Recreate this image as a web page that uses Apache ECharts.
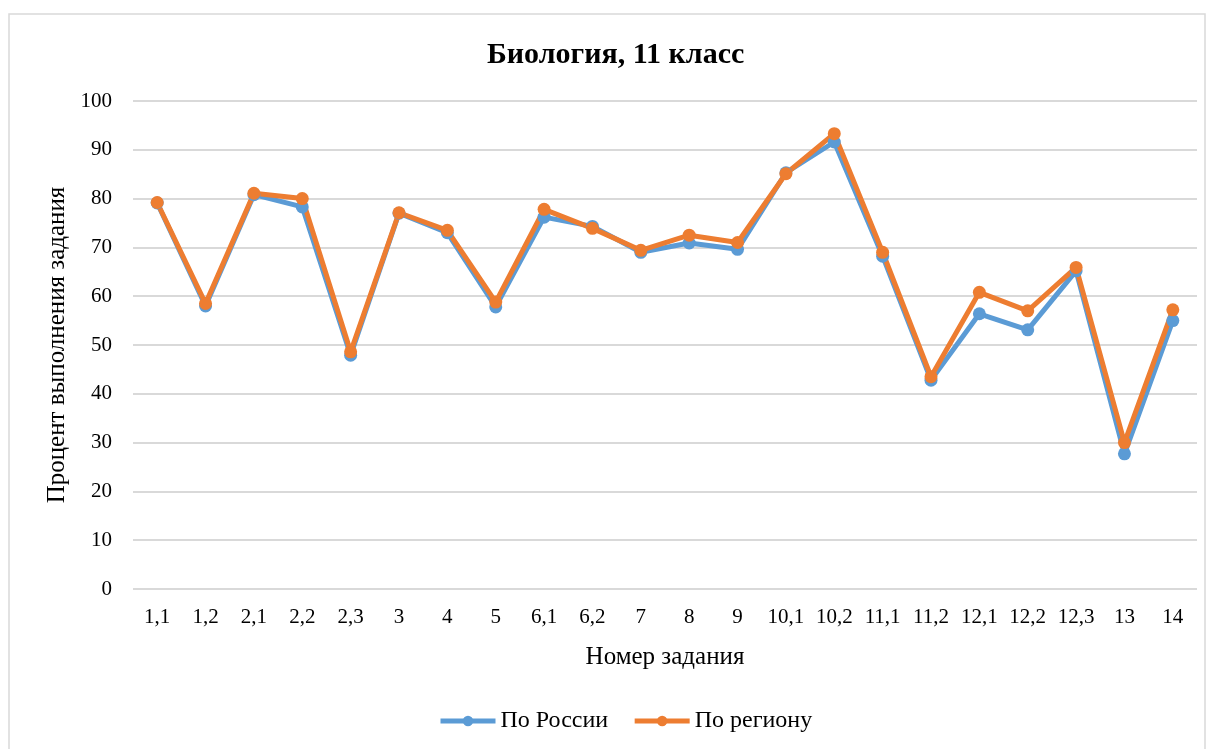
<!DOCTYPE html>
<html>
<head>
<meta charset="utf-8">
<script src="https://cdn.jsdelivr.net/npm/echarts@6/dist/echarts.min.js"></script>
<style>html,body{margin:0;padding:0;background:#fff}#c{width:1212px;height:749px}</style>
</head>
<body>
<div id="c"></div>
<script>
const categories = ['1,1','1,2','2,1','2,2','2,3','3','4','5','6,1','6,2','7','8','9','10,1','10,2','11,1','11,2','12,1','12,2','12,3','13','14'];
const russia = [79.1, 58.0, 80.8, 78.3, 47.9, 77.0, 73.0, 57.8, 76.2, 74.3, 69.0, 70.9, 69.6, 85.3, 91.6, 68.2, 42.8, 56.4, 53.1, 65.2, 27.7, 55.0];
const region = [79.2, 58.5, 81.1, 80.0, 48.6, 77.1, 73.5, 58.8, 77.8, 73.9, 69.4, 72.5, 71.0, 85.1, 93.3, 69.0, 43.5, 60.8, 57.0, 65.9, 30.0, 57.2];
const seriesNames = ['По России', 'По региону'];
const titleText = 'Биология, 11 класс';
const xName = 'Номер задания';
const yName = 'Процент выполнения задания';

const font = '"Liberation Serif", "Times New Roman", serif';
const chart = echarts.init(document.getElementById('c'), null, {renderer: 'canvas'});
const mkSeries = (name, data, color) => ({
  name, type: 'line', data,
  symbol: 'circle', symbolSize: 13,
  lineStyle: {width: 5, color},
  itemStyle: {color},
  animation: false
});
chart.setOption({
  animation: false,
  graphic: [{type: 'rect', shape: {x: 9, y: 14, width: 1196, height: 745}, style: {fill: 'none', stroke: '#d9d9d9', lineWidth: 1.5}}],
  title: {text: titleText, left: 482, top: 35, textStyle: {fontFamily: font, fontWeight: 'bold', fontSize: 30, color: '#000'}},
  grid: {left: 133, right: 15, top: 101, bottom: 160},
  legend: {
    bottom: 11, left: 433, itemWidth: 55, itemHeight: 13, itemGap: 24,
    textStyle: {fontFamily: font, fontSize: 24, color: '#000'},
    lineStyle: {width: 5},
    data: seriesNames
  },
  xAxis: {
    type: 'category', data: categories, boundaryGap: true,
    name: xName, nameLocation: 'middle', nameGap: 56,
    nameTextStyle: {fontFamily: font, fontSize: 25, color: '#000'},
    axisLine: {show: false}, axisTick: {show: false},
    axisLabel: {fontFamily: font, fontSize: 21, color: '#000', margin: 18, interval: 0}
  },
  yAxis: {
    type: 'value', min: 0, max: 100, interval: 10,
    name: yName, nameLocation: 'middle', nameGap: 61,
    nameTextStyle: {fontFamily: font, fontSize: 25, color: '#000'},
    axisLine: {show: false}, axisTick: {show: false},
    axisLabel: {fontFamily: font, fontSize: 21, color: '#000', margin: 21},
    splitLine: {lineStyle: {color: '#d9d9d9', width: 2}}
  },
  series: [
    mkSeries(seriesNames[0], russia, '#5B9BD5'),
    mkSeries(seriesNames[1], region, '#ED7D31')
  ]
});
</script>
</body>
</html>
